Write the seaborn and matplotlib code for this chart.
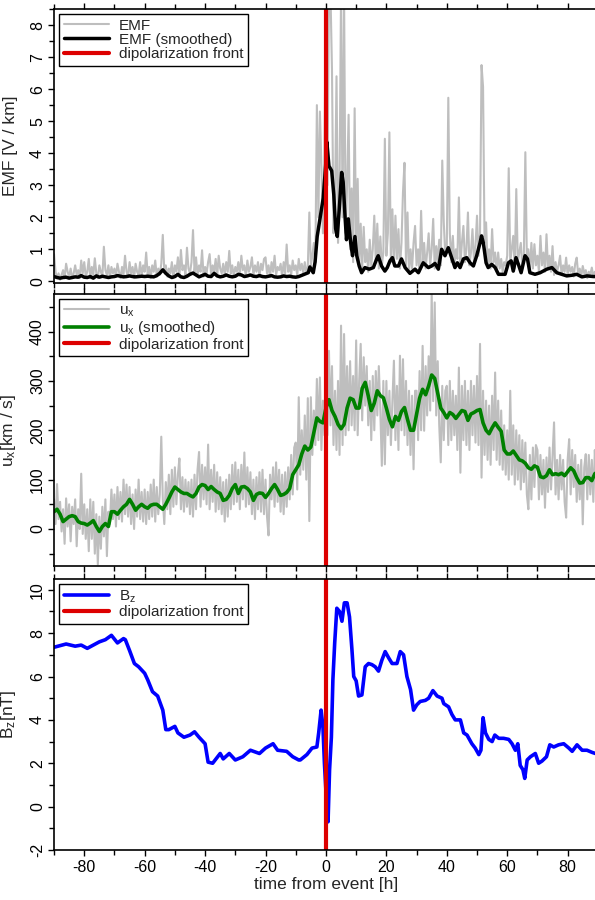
import numpy as np
import pandas as pd
import matplotlib
matplotlib.use("Agg")
import matplotlib.pyplot as plt
import seaborn as sns
from matplotlib.ticker import MultipleLocator

# ---------------- data ----------------
# raw EMF, half-hour steps from -90 to 90 h
t_raw = np.arange(-90, 90.01, 0.5)
emf_raw = [
    0.85, 0.3, 0.1, 0.25, 0.05, 0.2, 0.35, 0.1, 0.55, 0.3, 0.15, 0.4, 0.1, 0.25, 0.5, 0.2, 0.35, 0.1, 0.65, 0.25,
    0.6, 0.15, 0.3, 0.7, 0.1, 0.45, 0.2, 0.72, 0.25, 0.1, 0.5, 0.3, 0.15, 1.08, 0.35, 0.2, 0.5, 0.1, 0.45, 0.25,
    0.4, 0.15, 0.55, 0.3, 0.1, 0.45, 0.2, 0.8, 0.3, 0.15, 0.6, 0.25, 0.45, 0.1, 0.55, 0.3, 0.2, 0.6, 0.15, 0.5,
    0.3, 0.9, 0.2, 0.45, 0.1, 0.5, 0.3, 0.65, 0.15, 0.4, 0.2, 0.55, 1.45, 0.3, 0.5, 0.15, 0.4, 0.25, 0.6, 0.1,
    0.5, 0.3, 0.75, 0.15, 0.98, 0.35, 0.5, 0.2, 1.05, 0.4, 0.25, 0.6, 1.6, 0.3, 0.75, 0.2, 0.5, 0.3, 0.97, 0.15,
    0.45, 0.25, 0.6, 0.85, 0.2, 0.5, 0.3, 0.7, 0.15, 0.8, 0.4, 0.25, 0.55, 0.2, 0.6, 0.3, 0.95, 0.25, 0.5, 0.15,
    0.45, 0.3, 0.6, 0.2, 0.8, 0.35, 0.5, 0.15, 0.65, 0.3, 0.45, 0.75, 0.2, 0.5, 0.3, 0.6, 0.15, 0.55, 0.35, 0.7,
    0.75, 0.25, 0.5, 0.15, 0.6, 0.3, 0.8, 0.2, 0.45, 0.35, 0.55, 0.15, 0.6, 0.25, 1.15, 0.3, 0.5, 0.2, 0.65, 0.35,
    0.5, 0.2, 0.7, 0.35, 0.55, 0.25, 0.6, 0.3, 0.45, 2.15, 0.5, 0.8, 1.2, 0.6, 5.5, 2.0, 5.3, 3.6, 1.5, 3.9,
    9.0, 3.0, 9.0, 9.0, 6.6, 1.5, 2.5, 6.4, 1.2, 3.0, 9.0, 2.0, 9.0, 1.5, 3.0, 5.2, 1.0, 2.9, 0.6, 5.4,
    1.0, 3.2, 0.5, 1.8, 0.4, 1.7, 0.6, 1.0, 0.3, 1.3, 0.5, 1.0, 2.05, 0.6, 1.8, 0.4, 1.4, 0.5, 0.9, 4.45,
    0.8, 1.5, 4.65, 0.6, 2.25, 0.5, 2.05, 0.7, 1.63, 0.4, 1.2, 2.78, 3.7, 0.5, 2.15, 0.3, 1.0, 0.4, 1.2, 1.73,
    0.5, 1.0, 0.3, 2.2, 0.6, 1.2, 0.4, 0.9, 1.5, 0.5, 1.0, 1.95, 0.4, 1.1, 0.6, 1.3, 0.5, 3.77, 1.84, 0.8,
    1.0, 5.73, 1.5, 0.6, 1.42, 0.5, 1.0, 0.7, 2.62, 0.5, 1.2, 1.73, 0.6, 1.0, 2.15, 0.5, 0.9, 1.63, 0.6, 1.1,
    2.05, 0.8, 1.5, 6.75, 6.07, 1.2, 1.84, 0.5, 1.0, 0.4, 1.63, 0.6, 0.9, 0.3, 0.9, 0.4, 0.7, 0.3, 0.6, 0.5,
    0.8, 3.53, 0.6, 1.0, 1.42, 0.4, 2.88, 0.6, 0.9, 1.2, 0.4, 0.8, 4.03, 0.7, 1.0, 0.3, 1.2, 0.4, 1.16, 0.5,
    0.8, 0.3, 1.42, 0.5, 0.9, 0.3, 1.47, 0.4, 0.8, 0.3, 1.1, 0.2, 0.6, 0.3, 0.5, 0.8, 0.2, 0.5, 0.3, 0.74,
    0.2, 0.5, 0.3, 0.45, 0.15, 0.55, 0.74, 0.2, 0.4, 0.15, 0.48, 0.25, 0.35, 0.1, 0.3, 0.2, 0.43, 0.15, 0.3, 0.1,
    0.2,
]

# smoothed EMF
emf_s_t = list(range(-90, -8)) + [
    -5.85, -5.3, -4.2, -3.6, -2.9, -2.0, -0.9, -0.1, 0.3, 1.0, 1.9, 2.6, 3.2, 3.75, 4.4, 5.2, 5.7, 6.3,
    6.8, 7.4, 8.2, 8.8, 9.6, 10.2, 11.0, 11.8, 12.9, 14.3, 15.7, 16.8, 17.3, 18.4, 19.5, 20.3, 21.2,
    22.0, 22.8, 24.0, 25.0, 26.2, 27.8, 29.5, 30.6, 32.2, 33.9, 35.0, 36.1, 37.2, 38.3, 39.4, 40.5,
    41.6, 42.7, 43.5, 44.4, 45.5, 46.6, 47.7, 48.8, 49.9, 51.0, 51.5, 52.1, 53.0, 53.7, 54.9, 56.0,
    57.1, 58.2, 59.3, 60.4, 61.3, 62.0, 62.9, 63.7, 64.6, 65.9, 66.7, 67.5, 69.2, 70.9, 73.1, 74.8,
    76.4, 78.1, 79.7, 81.4, 83.0, 84.7, 86.4, 88.5, 90.0]
emf_s_v = [
    0.15, 0.12, 0.10, 0.12, 0.13, 0.10, 0.12, 0.14, 0.13, 0.18, 0.13, 0.12, 0.15, 0.10, 0.17, 0.13, 0.16,
    0.14, 0.12, 0.14, 0.15, 0.18, 0.16, 0.14, 0.15, 0.17, 0.15, 0.14, 0.15, 0.16, 0.15, 0.16, 0.15, 0.14,
    0.18, 0.25, 0.36, 0.25, 0.17, 0.12, 0.15, 0.22, 0.14, 0.12, 0.16, 0.22, 0.26, 0.20, 0.14, 0.18, 0.22,
    0.16, 0.15, 0.25, 0.17, 0.14, 0.16, 0.20, 0.16, 0.14, 0.16, 0.22, 0.20, 0.15, 0.17, 0.20, 0.16, 0.15,
    0.18, 0.15, 0.14, 0.16, 0.18, 0.14, 0.13, 0.14, 0.17, 0.15, 0.16, 0.14, 0.13, 0.15,
    0.27, 0.45, 0.27, 0.6, 1.4, 1.95, 2.6, 3.6, 4.35, 3.6, 3.45, 2.7, 1.65, 1.4, 2.25, 3.4, 3.1, 2.05,
    1.3, 1.95, 1.2, 0.8, 1.4, 0.8, 0.48, 0.27, 0.43, 0.38, 0.43, 0.7, 0.8, 0.48, 0.32, 0.43, 0.64,
    0.74, 0.48, 0.48, 0.7, 0.43, 0.25, 0.38, 0.27, 0.58, 0.43, 0.48, 0.56, 0.38, 1.0, 0.8, 1.05,
    0.74, 0.43, 0.58, 0.43, 0.7, 0.74, 0.58, 0.48, 0.8, 1.2, 1.42, 1.2, 0.58, 0.43, 0.53, 0.43,
    0.22, 0.22, 0.22, 0.58, 0.64, 0.32, 0.74, 0.53, 0.27, 0.8, 0.7, 0.27, 0.22, 0.27, 0.38, 0.43,
    0.27, 0.22, 0.17, 0.19, 0.22, 0.14, 0.17, 0.15, 0.15]

# raw u_x, half-hour steps from -90 to 90 h
ux_raw = [
    60, 10, 91, 20, 55, -5, 40, -30, 62, 5, 50, -25, 45, 10, 60, -35, 40, 0, 112, -10,
    50, -20, 40, -45, 60, -20, 55, -50, 30, -72, 25, -40, 45, -15, 60, -55, 35, 10, 80, 20,
    70, 5, 85, 20, 75, 15, 100, 30, 90, 25, 85, 10, 70, 0, 80, 25, 100, 20, 75, 15,
    80, 10, 75, 20, 90, 25, 100, 15, 85, 30, 70, 187, 60, 10, 95, 40, 110, 30, 120, 45,
    125, 50, 110, 143, 40, 105, 35, 100, 45, 95, 30, 100, 25, 110, 40, 120, 156, 45, 130, 60,
    125, 50, 171, 40, 120, 55, 130, 35, 115, 40, 105, 30, 95, 15, 100, 25, 110, 40, 130, 50,
    135, 55, 120, 40, 130, 60, 155, 45, 125, 50, 115, 30, 100, 20, 105, 40, 115, 35, 120, 30,
    100, 25, -13, 110, 60, 125, 45, 135, 55, 120, 35, 110, 30, 115, 45, 125, 60, 150, 70, 165,
    175, 80, 267, 110, 200, 120, 230, 100, 265, 16, 267, 150, 240, 170, 304, 180, 307, 160, 260, 190,
    300, 190, 361, 210, 330, 170, 280, 160, 300, 150, 412, 170, 395, 190, 330, 200, 340, 210, 310, 200,
    382, 190, 300, 375, 220, 348, 250, 330, 210, 300, 180, 310, 200, 320, 230, 330, 240, 128, 300, 131,
    300, 190, 280, 170, 260, 341, 180, 290, 160, 351, 200, 344, 190, 300, 170, 280, 150, 270, 121, 280,
    280, 180, 320, 200, 371, 199, 330, 230, 350, 240, 480, 259, 459, 230, 340, 210, 135, 290, 180, 280,
    290, 170, 300, 180, 280, 190, 270, 160, 327, 114, 290, 180, 300, 170, 280, 160, 300, 190, 290, 175,
    310, 170, 375, 104, 280, 150, 260, 140, 250, 130, 270, 160, 317, 140, 260, 130, 240, 120, 210, 110,
    200, 100, 280, 110, 210, 90, 200, 100, 190, 80, 180, 95, 175, 70, 40, 150, 60, 165, 85, 170,
    160, 60, 150, 70, 140, 43, 145, 75, 165, 80, 150, 216, 70, 140, 60, 150, 80, 140, 55, 23,
    140, 182, 70, 160, 85, 150, 55, 130, 60, 140, 9.5, 125, 151.6, 60, 150, 70, 140, 55, 160, 90,
    130,
]

# smoothed u_x, hourly from -90 to 90 h
t_hour = np.arange(-90, 91, 1)
ux_smooth = [
    35, 40, 30, 15, 20, 25, 27, 25, 15, 12, 11, 8, 12, 17, 5, -5, 5, 11, 5, 35,
    35, 30, 38, 45, 50, 60, 50, 38, 45, 50, 45, 42, 48, 50, 50, 45, 40, 50, 62, 75,
    85, 80, 75, 72, 72, 68, 65, 72, 85, 90, 88, 80, 86, 80, 75, 72, 58, 60, 68, 82,
    90, 72, 85, 86, 82, 75, 58, 70, 73, 72, 64, 72, 82, 90, 80, 68, 70, 74, 82, 110,
    120, 130, 152, 168, 160, 166, 195, 225, 218, 215, 245, 262, 240, 228, 212, 203, 212, 245, 265, 262,
    245, 245, 285, 297, 270, 240, 255, 280, 270, 266, 245, 222, 207, 228, 220, 238, 246, 222, 200, 200,
    233, 265, 283, 272, 290, 312, 305, 275, 245, 236, 225, 236, 232, 224, 232, 240, 238, 220, 233, 236,
    240, 242, 215, 200, 193, 205, 215, 206, 198, 160, 152, 152, 158, 149, 140, 138, 133, 124, 121, 128,
    125, 106, 104, 108, 120, 110, 112, 110, 113, 108, 116, 124, 118, 104, 93, 94, 104, 104, 98, 112,
    116,
]

# B_z
bz_t = [
    -90, -86, -83, -81, -79, -77, -75, -73, -71, -69, -67, -66.4, -65, -63.4, -62, -60, -59, -57.4,
    -55.7, -54, -53, -52, -50, -49, -47, -45, -43.5, -42, -40, -39, -37.5, -35, -34, -32, -30, -27.5,
    -25, -23, -22, -20, -17.5, -16, -13, -11, -9, -8.5, -6.3, -4.6, -3, -2.4, -1.6, -1, -0.5, 0.1,
    0.7, 1.2, 1.8, 2.3, 2.9, 3.6, 4.5, 5.3, 6.1, 7, 7.8, 8.6, 9.2, 10, 10.8, 11.9, 13, 14.1, 15.2,
    16.3, 17.4, 18.5, 19.6, 20.8, 21.9, 23.5, 24.6, 25.7, 26.8, 28, 29, 30.1, 31.2, 32.9, 34, 35.4,
    36.8, 38.4, 39, 40.6, 41.7, 42.8, 44.5, 45.6, 46.7, 48.3, 49.4, 50.6, 51.3, 52, 52.8, 53.9, 55,
    55.9, 57.2, 58.8, 60.5, 61.6, 62.7, 63.5, 64.3, 65.2, 65.8, 66.6, 67.7, 69.3, 70.4, 71.5, 73,
    74.1, 75.4, 77, 78.7, 80.4, 81.5, 83.1, 84.8, 86.4, 88.1, 89.2, 90]
bz_v = [
    7.35, 7.5, 7.4, 7.45, 7.3, 7.45, 7.6, 7.7, 7.9, 7.55, 7.75, 7.7, 7.2, 6.6, 6.45, 6.15, 5.85, 5.3,
    5.1, 4.45, 3.55, 3.55, 3.7, 3.4, 3.2, 3.3, 3.45, 3.2, 2.9, 2.05, 2.0, 2.45, 2.2, 2.45, 2.15, 2.3,
    2.6, 2.5, 2.45, 2.7, 2.9, 2.6, 2.55, 2.3, 2.15, 2.15, 2.4, 2.7, 2.75, 3.4, 4.45, 3.7, 2.0, 0.45,
    -0.7, 1.7, 3.2, 5.85, 7.55, 9.15, 9.0, 8.55, 9.4, 9.4, 8.75, 7.25, 6.0, 5.8, 5.1, 5.15, 6.45, 6.6, 6.55,
    6.45, 6.25, 6.75, 7.15, 6.85, 6.6, 6.6, 7.15, 7.0, 6.0, 5.4, 4.45, 4.7, 4.85, 4.9, 5.0, 5.35,
    5.1, 5.0, 4.75, 4.6, 4.25, 4.0, 4.0, 3.4, 3.3, 2.9, 2.7, 2.4, 2.6, 4.1, 3.4, 3.1, 3.0,
    3.3, 3.15, 3.15, 3.1, 2.9, 2.6, 2.9, 1.9, 1.7, 1.3, 2.15, 2.3, 2.45, 2.0, 2.1, 2.3,
    2.85, 2.75, 2.85, 2.9, 2.7, 2.55, 2.85, 2.6, 2.6, 2.5, 2.45, 2.45]

event_time = 0.0
x_ticks = [-80, -60, -40, -20, 0, 20, 40, 60, 80]

# ---------------- style ----------------
sns.set_theme(style="ticks")
plt.rcParams["font.family"] = ["Liberation Sans", "DejaVu Sans"]
plt.rcParams["mathtext.fontset"] = "custom"
plt.rcParams["mathtext.rm"] = "Liberation Sans"
plt.rcParams["mathtext.it"] = "Liberation Sans:italic"
plt.rcParams["axes.unicode_minus"] = False
plt.rcParams["axes.linewidth"] = 1.2
FS_TICK = 11.5
FS_LEG = 11.0
FS_LAB = 12.5

GREY = "#bebebe"
RED = "#dd0000"

df_raw = pd.DataFrame({"t": t_raw, "emf": emf_raw, "ux": ux_raw})
df_emf_s = pd.DataFrame({"t": emf_s_t, "v": emf_s_v})
df_ux_s = pd.DataFrame({"t": t_hour, "v": ux_smooth})
df_bz = pd.DataFrame({"t": bz_t, "v": bz_v})

fig = plt.figure(figsize=(5.95, 9.0), dpi=100)
W = 0.914
L = 0.0908
ax1 = fig.add_axes([L, 0.6856, W, 0.3044])
ax2 = fig.add_axes([L, 0.3711, W, 0.3022])
ax3 = fig.add_axes([L, 0.0556, W, 0.3011])

# panel 1
sns.lineplot(data=df_raw, x="t", y="emf", ax=ax1, color=GREY, lw=1.5, label="EMF", estimator=None)
sns.lineplot(data=df_emf_s, x="t", y="v", ax=ax1, color="black", lw=2.5, label="EMF (smoothed)", estimator=None)
ax1.axvline(event_time, color=RED, lw=3.0, label="dipolarization front")
ax1.set_ylim(-0.05, 8.5)
ax1.set_ylabel("EMF [V / km]", fontsize=FS_LAB)
ax1.yaxis.set_major_locator(MultipleLocator(1))
ax1.yaxis.set_minor_locator(MultipleLocator(0.5))

# panel 2
sns.lineplot(data=df_raw, x="t", y="ux", ax=ax2, color=GREY, lw=1.5, label=r"u$_\mathrm{x}$", estimator=None)
sns.lineplot(data=df_ux_s, x="t", y="v", ax=ax2, color="#008000", lw=2.6, label=r"u$_\mathrm{x}$ (smoothed)", estimator=None)
ax2.axvline(event_time, color=RED, lw=3.0, label="dipolarization front")
ax2.set_ylim(-75, 476)
ax2.set_ylabel(r"u$_\mathrm{x}$[km / s]", fontsize=FS_LAB)
ax2.yaxis.set_major_locator(MultipleLocator(100))
ax2.yaxis.set_minor_locator(MultipleLocator(50))

# panel 3
sns.lineplot(data=df_bz, x="t", y="v", ax=ax3, color="#0000ff", lw=2.6, label=r"B$_\mathrm{z}$", estimator=None)
ax3.axvline(event_time, color=RED, lw=3.0, label="dipolarization front")
ax3.set_ylim(-2, 10.5)
ax3.set_ylabel(r"B$_\mathrm{z}$[nT]", fontsize=FS_LAB)
ax3.yaxis.set_major_locator(MultipleLocator(2))
ax3.yaxis.set_minor_locator(MultipleLocator(1))
ax3.set_xlabel("time from event [h]", fontsize=FS_LAB, labelpad=1)

for ax in (ax1, ax2, ax3):
    ax.set_xlim(-90, 90)
    ax.set_xticks(x_ticks)
    ax.xaxis.set_minor_locator(MultipleLocator(10))
    ax.tick_params(axis="both", which="both", direction="out", width=1.0, colors="black",
                   labelsize=FS_TICK, top=True, bottom=True, left=True, right=False)
    ax.tick_params(axis="both", which="major", length=4.5)
    ax.tick_params(axis="both", which="minor", length=3.5)
    ax.tick_params(axis="y", labelrotation=90, pad=2)
    ax.tick_params(axis="x", pad=3)
    for lab in ax.get_yticklabels():
        lab.set_va("center")
    ax.yaxis.set_label_coords(-0.066, 0.5)
    for s in ax.spines.values():
        s.set_visible(True)
        s.set_color("black")
    leg = ax.legend(loc="upper left", bbox_to_anchor=(0.009, 0.982), borderaxespad=0,
                    fontsize=FS_LEG, frameon=True, fancybox=False, framealpha=1,
                    edgecolor="black", handlelength=3.0, handletextpad=0.6,
                    labelspacing=0.02, borderpad=0.3)
    leg.get_frame().set_linewidth(1.0)
    ax.grid(False)

for ax in (ax1, ax2):
    ax.tick_params(axis="x", labelbottom=False)
    ax.set_xlabel("")

fig.savefig("out.png", dpi=100, facecolor="white")
